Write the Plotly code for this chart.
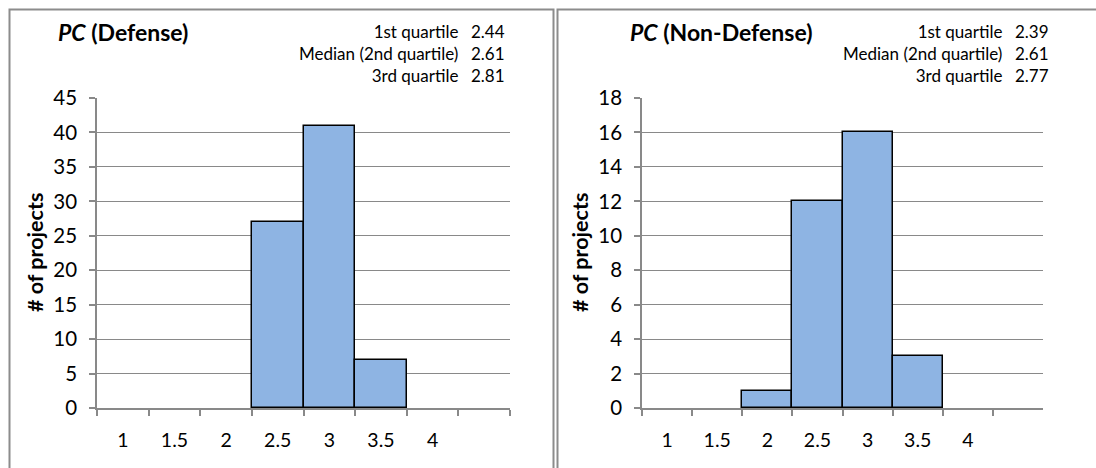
import plotly.graph_objects as go

categories = ["1", "1.5", "2", "2.5", "3", "3.5", "4", " "]
defense_counts = [0, 0, 0, 27, 41, 7, 0, 0]
nondefense_counts = [0, 0, 1, 12, 16, 3, 0, 0]
quartile_labels = ["1st quartile", "Median (2nd quartile)", "3rd quartile"]
defense_quartiles = ["2.44", "2.61", "2.81"]
nondefense_quartiles = ["2.39", "2.61", "2.77"]
panel_titles = ["<b><i>PC</i> (Defense)</b>", "<b><i>PC</i> (Non-Defense)</b>"]

W, H = 1096, 468
FONT = "Lato"
BAR = "#8EB4E3"
GRID = "#898989"

def px(x):
    return x / W

def py(y):
    return 1 - y / H

fig = go.Figure()

panels = [
    dict(counts=defense_counts, quart=defense_quartiles, title=panel_titles[0],
         x0=97, x1=510, ymax=45, dtick=5, ax="x", ay="y",
         title_x=56, lab_x=460, val_x=469, ytitle_x=35,
         box=(9.5, 553.5)),
    dict(counts=nondefense_counts, quart=nondefense_quartiles, title=panel_titles[1],
         x0=642, x1=1043, ymax=18, dtick=2, ax="x2", ay="y2",
         title_x=628, lab_x=1004, val_x=1013, ytitle_x=580,
         box=(557.5, 1110)),
]

top, bottom = 98, 408

for i, p in enumerate(panels):
    yvals = [v if v > 0 else None for v in p["counts"]]
    fig.add_trace(go.Bar(
        x=categories, y=yvals, xaxis=p["ax"], yaxis=p["ay"],
        marker=dict(color=BAR, line=dict(color="black", width=1.5)),
        showlegend=False, hoverinfo="skip",
    ))
    sfx = "" if i == 0 else "2"
    fig.update_layout(**{
        "xaxis" + sfx: dict(
            domain=[px(p["x0"]), px(p["x1"])],
            anchor="y" + sfx, type="category",
            categoryorder="array", categoryarray=categories,
            range=[-0.5, len(categories) - 0.5],
            tickson="boundaries", ticks="outside", ticklen=6,
            tickcolor=GRID, tickwidth=1.5,
            showline=True, linecolor=GRID, linewidth=1.5,
            showgrid=False, zeroline=False, automargin=False,
            ticklabelstandoff=14,
            tickfont=dict(family=FONT, size=19.5, color="black"),
            fixedrange=True,
        ),
        "yaxis" + sfx: dict(
            domain=[py(bottom), py(top)],
            anchor="x" + sfx,
            range=[0, p["ymax"]], dtick=p["dtick"],
            ticks="outside", ticklen=6, tickcolor=GRID, tickwidth=1.5,
            showline=True, linecolor=GRID, linewidth=1.5,
            showgrid=True, gridcolor=GRID, gridwidth=1.2,
            zeroline=False, automargin=False,
            ticklabelstandoff=8,
            tickfont=dict(family=FONT, size=20.5, color="black"),
            fixedrange=True,
        ),
    })
    # panel border
    fig.add_shape(type="rect", xref="paper", yref="paper",
                  x0=px(p["box"][0]), x1=px(p["box"][1]),
                  y0=py(9.5), y1=py(500),
                  line=dict(color="#8c8c8c", width=2), fillcolor="rgba(0,0,0,0)")
    # title
    fig.add_annotation(text=p["title"], xref="paper", yref="paper",
                       x=px(p["title_x"]), y=py(32), xanchor="left", yanchor="middle",
                       showarrow=False, font=dict(family=FONT, size=23, color="black"))
    # quartile table (one block of labels, one block of values)
    fig.add_annotation(text="<br>".join(quartile_labels), xref="paper", yref="paper",
                       x=px(p["lab_x"]), y=py(19.5), xanchor="right", yanchor="top",
                       align="right", showarrow=False,
                       font=dict(family=FONT, size=17, color="black"))
    fig.add_annotation(text="<br>".join(p["quart"]), xref="paper", yref="paper",
                       x=px(p["val_x"]), y=py(19.5), xanchor="left", yanchor="top",
                       align="left", showarrow=False,
                       font=dict(family=FONT, size=17, color="black"))
    # y axis title
    fig.add_annotation(text="<b># of projects</b>", xref="paper", yref="paper",
                       x=px(p["ytitle_x"]), y=py((top + bottom) / 2),
                       xanchor="center", yanchor="middle", textangle=-90,
                       showarrow=False, font=dict(family=FONT, size=21.5, color="black"))

fig.update_layout(
    width=W, height=H,
    margin=dict(l=0, r=0, t=0, b=0, pad=0, autoexpand=False),
    paper_bgcolor="white", plot_bgcolor="white",
    bargap=0,
    font=dict(family=FONT, color="black"),
)

fig.write_html("out.html", config={"displayModeBar": False},
               post_script="document.body.style.margin='0';document.body.style.overflow='hidden';")
